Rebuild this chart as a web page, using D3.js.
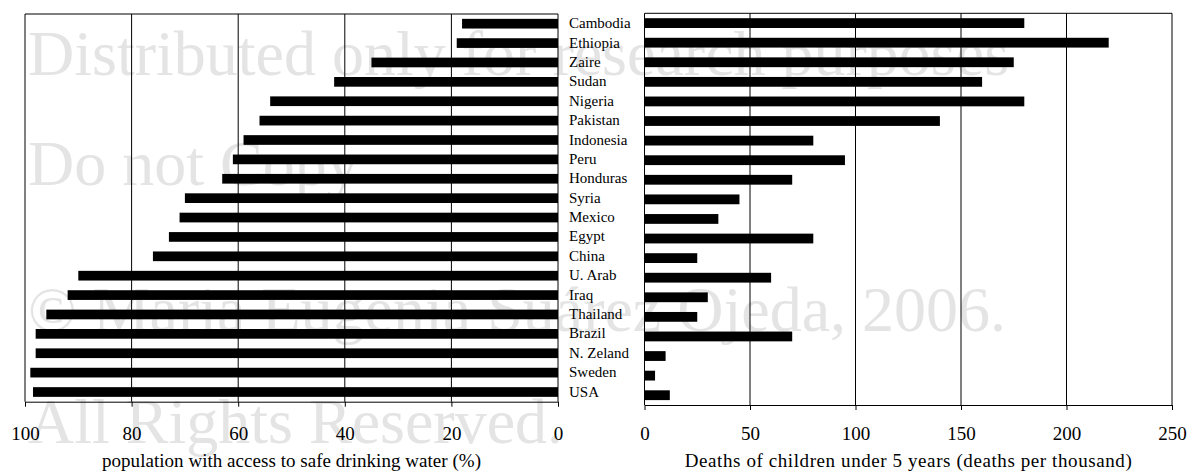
<!DOCTYPE html>
<html>
<head>
<meta charset="utf-8">
<script src="https://cdn.jsdelivr.net/npm/d3@7"></script>
<style>
  body { margin: 0; background: #fff; }
  svg text { font-family: "Liberation Serif", "Times New Roman", serif; }
</style>
</head>
<body>
<div id="chart"></div>
<script>
// data
const countries = ["Cambodia", "Ethiopia", "Zaire", "Sudan", "Nigeria", "Pakistan", "Indonesia", "Peru",
    "Honduras", "Syria", "Mexico", "Egypt", "China", "U. Arab", "Iraq", "Thailand", "Brazil",
    "N. Zeland", "Sweden", "USA"];
const waterAccess = [18, 19, 35, 42, 54, 56, 59, 61, 63, 70, 71, 73, 76, 90, 92, 96, 98, 98, 99, 98.5];
const childDeaths = [180, 220, 175, 160, 180, 140, 80, 95, 70, 45, 35, 80, 25, 60, 30, 25, 70, 10, 5, 12];
const waterTicks = [100, 80, 60, 40, 20, 0];
const deathTicks = [0, 50, 100, 150, 200, 250];
const waterTitle = "population with access to safe drinking water (%)";
const deathTitle = "Deaths of children under 5 years (deaths per thousand)";
const watermark = ["Distributed only for research purposes", "Do not Copy",
    "© Maria Eugenia Suárez Ojeda, 2006.", "All Rights Reserved."];

const width = 1188, height = 472;

const svg = d3.select("#chart").append("svg")
    .attr("width", width)
    .attr("height", height);

// watermark goes under everything
const wmY = [75, 185, 331, 443];
svg.append("g")
    .selectAll("text")
    .data(watermark)
    .join("text")
    .attr("x", 28)
    .attr("y", (_, i) => wmY[i])
    .attr("font-size", 64)
    .attr("fill", "#e4e4e4")
    .text(d => d);

function panel(values, ticks, xRange, yRange, domain, title, titleWidth) {
    const xScale = d3.scaleLinear(domain, xRange);
    const yScale = d3.scaleBand(countries, yRange).paddingInner(0.5).paddingOuter(0.25);
    const [top, bottom] = yRange;
    const g = svg.append("g");

    // grid + frame
    g.selectAll("line.grid")
        .data(ticks)
        .join("line")
        .attr("x1", d => xScale(d))
        .attr("x2", d => xScale(d))
        .attr("y1", top)
        .attr("y2", bottom)
        .attr("stroke", "#000")
        .attr("stroke-width", 1);
    g.append("line")
        .attr("x1", d3.min(xRange)).attr("x2", d3.max(xRange))
        .attr("y1", top).attr("y2", top)
        .attr("stroke", "#000");

    // bars
    const x0 = xScale(0);
    g.selectAll("rect")
        .data(values)
        .join("rect")
        .attr("x", d => Math.min(x0, xScale(d)))
        .attr("width", d => Math.abs(xScale(d) - x0))
        .attr("y", (_, i) => yScale(countries[i]))
        .attr("height", yScale.bandwidth())
        .attr("fill", "#000");

    // x axis
    const axis = g.append("g")
        .attr("transform", `translate(0,${bottom})`)
        .call(d3.axisBottom(xScale).tickValues(ticks).tickSize(5).tickSizeOuter(0).tickPadding(0));
    axis.select(".domain").attr("stroke", "#000");
    axis.selectAll(".tick line").attr("stroke", "#000");
    axis.selectAll("text")
        .attr("y", 440 - bottom)
        .attr("dy", null)
        .attr("font-size", 19)
        .attr("font-family", "Liberation Serif")
        .attr("fill", "#000");

    svg.append("text")
        .attr("x", (xRange[0] + xRange[1]) / 2)
        .attr("y", 467)
        .attr("text-anchor", "middle")
        .attr("font-size", 19)
        .attr("textLength", titleWidth)
        .attr("lengthAdjust", "spacing")
        .text(title);

    return yScale;
}

const yLeft = panel(waterAccess, waterTicks, [25, 558], [14, 401.7], [100, 0], waterTitle, 379);
panel(childDeaths, deathTicks, [644.5, 1172], [13.3, 405], [0, 250], deathTitle, 447);

// country names between the panels
svg.append("g")
    .selectAll("text")
    .data(countries)
    .join("text")
    .attr("x", 569)
    .attr("y", d => yLeft(d) + yLeft.bandwidth() / 2 + 4.5)
    .attr("font-size", 15)
    .text(d => d);
</script>
</body>
</html>
